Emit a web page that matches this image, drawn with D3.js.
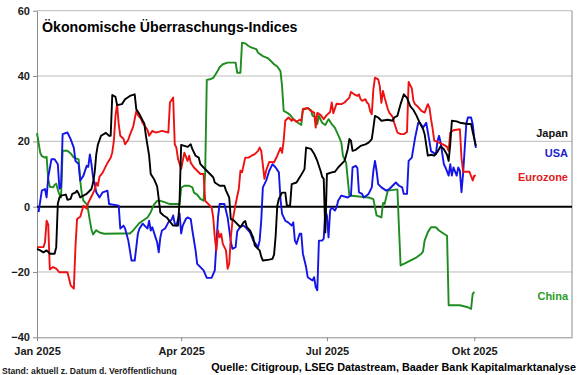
<!DOCTYPE html>
<html lang="de">
<head>
<meta charset="UTF-8">
<title>Ökonomische Überraschungs-Indices</title>
<script src="https://d3js.org/d3.v7.min.js"></script>
<style>
  body { margin: 0; background: #fff; }
  svg { font-family: Arial, "Liberation Sans", sans-serif; font-weight: bold; }
</style>
</head>
<body>
<script>
const yTicks = [60, 40, 20, 0, -20, -40];
const xTickDates = ["2025-01-01", "2025-04-01", "2025-07-01", "2025-10-01"];
const xTickLabels = ["Jan 2025", "Apr 2025", "Jul 2025", "Okt 2025"];

const usa = [["01-02",-1.7],["01-04",4.9],["01-06",5.4],["01-07",2.8],["01-08",9],["01-10",14.5],["01-12",14.5],["01-14",13],["01-15",5.5],["01-16",6],["01-17",22.2],["01-20",22.7],["01-22",20.7],["01-24",18],["01-25",14],["01-27",13],["01-28",8],["01-30",9.5],["02-01",12.5],["02-02",12.2],["02-03",16],["02-04",13],["02-05",9],["02-06",7],["02-07",4.4],["02-09",2.8],["02-11",4.4],["02-14",4.9],["02-15",0.8],["02-21",0.3],["02-22",-6.7],["02-24",-5.8],["02-25",-6.7],["02-27",-10.4],["02-28",-13.4],["03-01",-16.5],["03-03",-16.5],["03-04",-12.4],["03-05",-8.2],["03-06",-6.7],["03-08",-5.2],["03-11",-6.7],["03-12",-4.3],["03-13",-7.3],["03-14",-6.3],["03-16",-9.4],["03-17",-10.9],["03-18",-14],["03-19",-9.4],["03-20",-7.3],["03-22",-6.7],["03-24",-4.8],["03-26",-4],["03-27",-2.7],["03-28",-5.2],["03-29",-5.8],["03-31",-2.1],["04-01",-8.2],["04-02",-5.8],["04-04",-3.7],["04-05",-3.3],["04-07",-3.8],["04-08",-7.3],["04-10",-13.4],["04-11",-17.5],["04-13",-18.5],["04-15",-19.5],["04-17",-21.8],["04-20",-21.8],["04-22",-19.5],["04-23",-11.4],["04-24",-3.3],["04-25",0.8],["04-28",0.8],["04-30",-3.3],["05-02",-10.7],["05-03",-12.9],["05-05",-12.4],["05-06",-7.6],["05-08",-6.1],["05-10",-5.8],["05-12",-6.7],["05-14",-7.9],["05-16",-10.4],["05-19",-12.4],["05-20",-10.4],["05-21",-4.2],["05-22",5.9],["05-24",7.9],["05-26",11],["05-28",13],["05-30",12],["06-01",10.5],["06-02",2.4],["06-03",-2.2],["06-05",-4.3],["06-07",-4.9],["06-09",-5.8],["06-10",-4.8],["06-11",-10.4],["06-12",-11.4],["06-14",-8.3],["06-15",-8.3],["06-16",-14.4],["06-18",-18.5],["06-19",-21.6],["06-22",-22.6],["06-23",-21.6],["06-24",-24.6],["06-25",-25.6],["06-26",-10.4],["06-28",-10.4],["06-29",-9.8],["06-30",-1.2],["07-01",-2.7],["07-02",-9.4],["07-03",-1.2],["07-04",-0.2],["07-06",-1.2],["07-07",-0.2],["07-08",1.8],["07-10",3.4],["07-14",2.8],["07-16",3.4],["07-17",12],["07-19",12.5],["07-20",11.9],["07-21",4.4],["07-23",3.9],["07-24",2.8],["07-27",3.9],["07-29",5.9],["07-30",11],["07-31",14],["08-01",11],["08-02",6.9],["08-04",5.9],["08-07",4.9],["08-09",5.4],["08-11",6.4],["08-13",7.4],["08-15",6.4],["08-17",5.9],["08-18",3.9],["08-20",3.9],["08-21",14],["08-23",15],["08-25",21],["08-27",25.7],["08-28",25.7],["08-30",24.2],["09-01",25.7],["09-03",20],["09-04",17],["09-07",16],["09-08",20],["09-09",21.7],["09-10",19.6],["09-12",13],["09-13",12],["09-15",9.5],["09-16",13],["09-17",9.5],["09-18",12],["09-20",9.5],["09-21",12],["09-22",11],["09-23",4.4],["09-24",10],["09-26",25.3],["09-27",27.3],["09-29",27.3],["09-30",25.3],["10-01",21],["10-02",18]];

const japan = [["01-01",-12.9],["01-03",-13.4],["01-05",-14],["01-07",-13.4],["01-09",-14.4],["01-12",-14.4],["01-13",-12.4],["01-14",0.9],["01-15",2.8],["01-16",3.4],["01-19",3.7],["01-20",2.1],["01-22",2.4],["01-23",3.9],["01-25",4.3],["01-26",4.9],["01-27",4],["01-28",2.8],["01-30",3.4],["02-01",3.9],["02-02",4.4],["02-04",5.4],["02-05",7.3],["02-06",10.5],["02-07",16],["02-08",19],["02-10",21.7],["02-13",22.6],["02-15",21.7],["02-16",21.7],["02-17",34.2],["02-19",33.6],["02-20",31.1],["02-23",31.4],["02-25",32.9],["02-28",33.9],["03-03",34.4],["03-04",29.8],["03-06",28.3],["03-08",26.3],["03-09",25.5],["03-10",21.7],["03-12",15.6],["03-13",10],["03-15",8.5],["03-17",6.2],["03-18",2.4],["03-19",-1.8],["03-21",-2.7],["03-23",-3.3],["03-25",-4.6],["03-27",-5.8],["03-30",-5.8],["03-31",1.8],["04-01",18.9],["04-03",18.6],["04-05",18.3],["04-07",19.1],["04-08",17.6],["04-10",15.6],["04-12",15],["04-13",13],["04-15",12],["04-17",11],["04-19",10],["04-21",9],["04-22",7.4],["04-25",6.4],["04-28",6.4],["04-29",4.9],["05-01",2.8],["05-02",-3.8],["05-04",-4.3],["05-06",-5.3],["05-08",-6.3],["05-10",-4.8],["05-11",-4.4],["05-12",-6.3],["05-14",-7.3],["05-16",-9.5],["05-17",-11.9],["05-19",-12.9],["05-20",-13.4],["05-21",-15.3],["05-22",-16.5],["05-26",-16.2],["05-28",-16],["05-29",-14.7],["05-30",-8.9],["05-31",0.3],["06-01",2.4],["06-03",4.3],["06-05",4.3],["06-06",0.3],["06-08",0.3],["06-09",6.9],["06-12",7.4],["06-15",9.8],["06-17",11.5],["06-18",18.1],["06-21",17.7],["06-23",16.2],["06-25",14],["06-27",11],["06-28",9.2],["06-29",8.5],["06-30",-7.9],["07-01",10],["07-04",10.5],["07-06",10.7],["07-08",12],["07-10",13],["07-12",14],["07-14",17.6],["07-15",20.7],["07-16",20.2],["07-17",17.1],["07-19",17.4],["07-22",18.6],["07-25",19.1],["07-27",19.6],["07-29",20.7],["07-30",24.1],["07-31",27.8],["08-02",27.3],["08-04",26.3],["08-08",26.6],["08-11",26.3],["08-12",27.3],["08-14",27.8],["08-16",31.4],["08-18",34.4],["08-20",33.3],["08-22",30.8],["08-24",29.6],["08-26",27.8],["08-28",25.6],["08-30",23.8],["08-31",22.2],["09-02",15.6],["09-04",15.9],["09-06",15.6],["09-08",16.8],["09-10",18.5],["09-12",17.6],["09-14",15.9],["09-15",14],["09-16",19.1],["09-17",26.3],["09-20",26.1],["09-22",25.7],["09-27",25.3],["09-29",25.3],["09-30",22.9],["10-02",18.6]];

const eurozone = [["01-01",-12.4],["01-05",-12.4],["01-06",-10.9],["01-07",-4.3],["01-08",-5.5],["01-09",-19.2],["01-11",-18.5],["01-13",-19],["01-15",-20.1],["01-20",-20.1],["01-21",-22],["01-22",-24.1],["01-24",-25.1],["01-25",-12.4],["01-26",-3.8],["01-28",-3.1],["01-30",0.3],["02-01",-0.6],["02-02",1.2],["02-04",3.1],["02-06",5.2],["02-07",7.3],["02-08",6.4],["02-09",9.2],["02-11",10.4],["02-14",13.4],["02-16",15],["02-17",16.6],["02-18",20.2],["02-19",27.8],["02-20",31.4],["02-21",25.3],["02-22",21.7],["02-24",20.8],["02-25",19.1],["02-27",20.5],["02-28",22],["03-02",24.4],["03-04",29.3],["03-05",28.1],["03-07",26.8],["03-08",25.6],["03-11",23.5],["03-12",21.7],["03-14",23.2],["03-16",22.7],["03-18",22.9],["03-20",23.2],["03-24",22.7],["03-25",31.9],["03-27",33.4],["03-28",19.1],["03-29",18.1],["03-30",14.7],["04-01",11.6],["04-03",16.5],["04-05",14],["04-06",15.6],["04-07",13.4],["04-09",12],["04-11",11],["04-13",10],["04-15",10],["04-16",1.8],["04-18",0.8],["04-20",-0.2],["04-21",-3.3],["04-22",-9.4],["04-23",-13.4],["04-24",-7.3],["04-25",-9.4],["04-26",-8.3],["04-27",-11.4],["04-29",-13.4],["04-30",-19],["05-01",-17.5],["05-02",-9.4],["05-03",-4.6],["05-05",0.8],["05-07",5.5],["05-08",11],["05-09",10.5],["05-11",15],["05-13",15],["05-15",15.6],["05-17",16.1],["05-19",17.1],["05-20",18.1],["05-21",17.1],["05-23",8.5],["05-24",11],["05-26",13.7],["05-29",13.6],["05-31",15.6],["06-02",18],["06-03",16.5],["06-04",20.2],["06-05",26.3],["06-07",27.3],["06-09",26.3],["06-10",26.8],["06-12",26],["06-14",26.6],["06-15",26.3],["06-16",29.9],["06-19",30.2],["06-21",29.3],["06-23",28.8],["06-24",24.2],["06-25",28.7],["06-27",28.1],["06-29",26.8],["07-01",28.1],["07-03",29],["07-04",31.9],["07-05",28.6],["07-07",31.5],["07-10",31.4],["07-12",31.9],["07-15",33.4],["07-16",35.1],["07-18",34.4],["07-20",33.9],["07-21",34.4],["07-22",32.9],["07-23",32.4],["07-25",32.9],["07-26",31.9],["07-27",31.4],["07-28",29.3],["07-29",28.3],["07-30",35.9],["07-31",39.5],["08-02",39],["08-03",36.9],["08-04",31.8],["08-05",35.4],["08-06",33.4],["08-08",29.9],["08-09",28.7],["08-11",27.5],["08-12",25.7],["08-14",22.7],["08-16",22.2],["08-18",22.2],["08-20",22.9],["08-21",38.2],["08-23",36.2],["08-24",32.4],["08-25",31.4],["08-27",30.5],["08-29",29.3],["08-31",28.8],["09-02",31.4],["09-03",30.3],["09-04",26.8],["09-05",23.8],["09-06",20.2],["09-08",19.8],["09-10",19.4],["09-12",18.9],["09-14",18.3],["09-15",17.1],["09-16",22.7],["09-18",23.4],["09-22",23.7],["09-23",15],["09-24",10.7],["09-28",10.7],["09-30",8],["10-01",9.5],["10-02",9.5]];

const china = [["01-01",22.5],["01-03",16.5],["01-04",15.5],["01-06",15],["01-07",15.3],["01-08",8.5],["01-09",6.1],["01-11",5.9],["01-12",6.7],["01-13",7],["01-14",5.2],["01-15",3.7],["01-16",2.8],["01-17",17.1],["01-20",17.1],["01-22",16.3],["01-24",15],["01-27",14.5],["01-28",7.9],["01-29",3.9],["01-30",1.8],["02-01",0.8],["02-02",-1.2],["02-03",-4.3],["02-04",-7],["02-05",-8.5],["02-07",-7.2],["02-09",-7.9],["02-12",-8.3],["02-22",-8.2],["02-28",-8.2],["03-02",-7.3],["03-04",-6.1],["03-06",-5],["03-08",-4.3],["03-11",-3.3],["03-13",-1.7],["03-15",0.6],["03-17",1.8],["03-19",1.8],["03-22",1.3],["03-25",0.8],["03-31",0.8],["04-01",5.8],["04-03",6.4],["04-06",6.4],["04-08",5.9],["04-09",4.3],["04-11",3.7],["04-13",2.4],["04-15",1.8],["04-16",10.4],["04-17",38.8],["04-19",39],["04-21",39.4],["04-23",40.9],["04-25",42.7],["04-27",43.6],["04-30",44.1],["05-05",44.1],["05-06",41],["05-08",41],["05-09",50.2],["05-11",50],["05-13",49.2],["05-15",48.7],["05-18",48.2],["05-19",47.1],["05-22",46.1],["05-25",45.5],["05-27",44.6],["05-29",43.6],["05-31",42.9],["06-02",41.5],["06-03",36.9],["06-04",29.3],["06-06",28.8],["06-08",28.1],["06-10",26.8],["06-13",25.7],["06-15",25],["06-16",29.6],["06-19",30.2],["06-21",29.6],["06-22",27.8],["06-24",27.5],["06-25",25.3],["06-26",27.8],["06-28",25.7],["06-30",25],["07-02",26.8],["07-04",25.3],["07-06",24.1],["07-08",22],["07-10",19.7],["07-11",15.6],["07-13",13.4],["07-15",3.4],["07-27",2.8],["07-30",2.3],["07-31",-0.2],["08-01",-2.7],["08-04",-3.3],["08-05",1.1],["08-06",0.8],["08-08",4.9],["08-14",5.3],["08-15",-6.7],["08-16",-18],["08-19",-17.3],["08-22",-16.5],["08-26",-15.5],["08-29",-14.4],["08-30",-13.7],["08-31",-10.4],["09-02",-7.8],["09-04",-6.3],["09-07",-6.3],["09-09",-7.3],["09-12",-8.3],["09-14",-8.9],["09-15",-30.2],["09-22",-30.2],["09-27",-30.8],["09-29",-31.3],["09-30",-26.7],["10-01",-26.1]];

const series = [
  { name: "China", values: china, color: "#1e8c1e", label: "#2a9a2a", labelY: 300 },
  { name: "USA", values: usa, color: "#1414e6", label: "#2222cc", labelY: 157 },
  { name: "Eurozone", values: eurozone, color: "#ee1111", label: "#e02020", labelY: 181 },
  { name: "Japan", values: japan, color: "#000000", label: "#111111", labelY: 137 }
];

const W = 580, H = 375;
const plot = { left: 37, right: 572, top: 10.7, bottom: 337.3 };

const parse = d3.timeParse("%Y-%m-%d");
const toPoints = arr => arr.map(([md, v]) => ({ date: parse("2025-" + md), value: v }));

const x = d3.scaleTime()
  .domain([parse("2025-01-01"), parse("2025-12-01")])
  .range([plot.left, plot.right]);
const y = d3.scaleLinear().domain([-40, 60]).range([plot.bottom, plot.top]);

const svg = d3.select("body").append("svg")
  .attr("width", W).attr("height", H);

// Gitterlinien
svg.append("g").selectAll("line")
  .data(yTicks.filter(t => t !== 0 && t !== -40))
  .join("line")
  .attr("x1", plot.left).attr("x2", plot.right)
  .attr("y1", d => y(d)).attr("y2", d => y(d))
  .attr("stroke", "#bcbcbc").attr("stroke-width", 1);

// rechter Rahmen
svg.append("line")
  .attr("x1", plot.right).attr("x2", plot.right).attr("y1", plot.top).attr("y2", plot.bottom)
  .attr("stroke", "#8c8c8c").attr("stroke-width", 1);

// y-Achse
const yAxis = svg.append("g")
  .attr("transform", `translate(${plot.left},0)`)
  .call(d3.axisLeft(y).tickValues(yTicks).tickSize(4).tickSizeOuter(0).tickPadding(3));
yAxis.select(".domain").attr("stroke", "#8c8c8c");
yAxis.selectAll(".tick line").attr("stroke", "#8c8c8c");
yAxis.selectAll("text")
  .attr("font-size", 11).attr("font-weight", "bold")
  .attr("font-family", "Arial, 'Liberation Sans', sans-serif").attr("fill", "#1a1a1a");

// x-Achse
const xAxis = svg.append("g")
  .attr("transform", `translate(0,${plot.bottom})`)
  .call(d3.axisBottom(x)
    .tickValues(xTickDates.map(parse))
    .tickFormat((d, i) => xTickLabels[i])
    .tickSize(4).tickSizeOuter(0).tickPadding(6));
xAxis.select(".domain").attr("stroke", "#8c8c8c");
xAxis.selectAll(".tick line").attr("stroke", "#8c8c8c");
xAxis.selectAll("text")
  .attr("font-size", 11).attr("font-weight", "bold")
  .attr("font-family", "Arial, 'Liberation Sans', sans-serif").attr("fill", "#1a1a1a");

// Nulllinie
svg.append("line")
  .attr("x1", plot.left).attr("x2", plot.right)
  .attr("y1", y(0)).attr("y2", y(0))
  .attr("stroke", "#000").attr("stroke-width", 2);

// Linien
const line = d3.line()
  .x(d => x(d.date))
  .y(d => y(d.value));

svg.append("g").selectAll("path")
  .data(series)
  .join("path")
  .attr("d", d => line(toPoints(d.values)))
  .attr("fill", "none")
  .attr("stroke", d => d.color)
  .attr("stroke-width", 1.9)
  .attr("stroke-linejoin", "round");

// Beschriftungen rechts
svg.append("g").selectAll("text")
  .data(series)
  .join("text")
  .attr("x", 568).attr("y", d => d.labelY)
  .attr("text-anchor", "end")
  .attr("font-size", 11)
  .attr("fill", d => d.label)
  .text(d => d.name);

// Titel
svg.append("text")
  .attr("x", 42).attr("y", 31.5)
  .attr("font-size", 14.2)
  .attr("fill", "#000")
  .text("Ökonomische Überraschungs-Indices");

// Fußzeilen
svg.append("text")
  .attr("x", 2).attr("y", 374)
  .attr("font-size", 8.6)
  .attr("fill", "#1a1a1a")
  .text("Stand: aktuell z. Datum d. Veröffentlichung");

svg.append("text")
  .attr("x", 576).attr("y", 371)
  .attr("text-anchor", "end")
  .attr("font-size", 10.8)
  .attr("fill", "#000")
  .text("Quelle: Citigroup, LSEG Datastream, Baader Bank Kapitalmarktanalyse");
</script>
</body>
</html>
